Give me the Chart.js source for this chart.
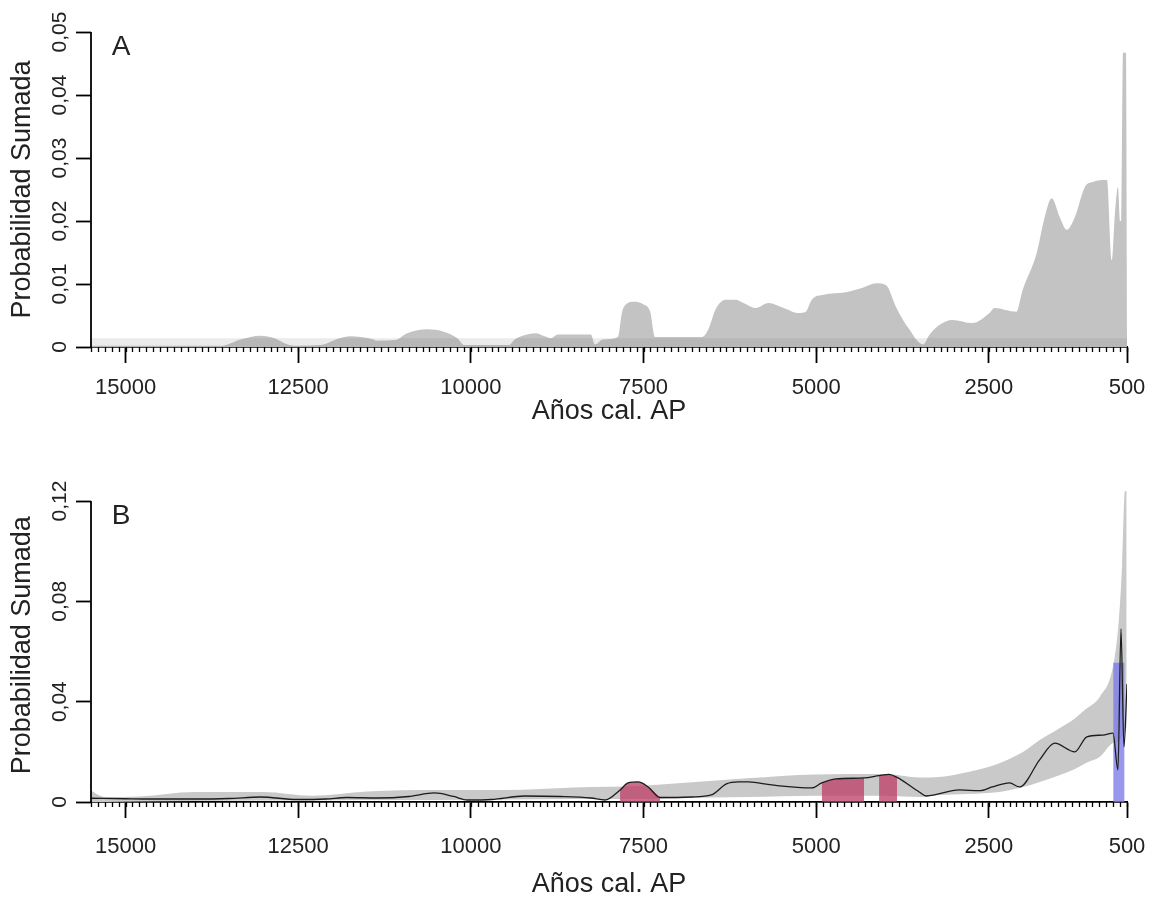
<!DOCTYPE html>
<html><head><meta charset="utf-8">
<script src="https://cdn.jsdelivr.net/npm/chart.js@4.4.1/dist/chart.umd.min.js"></script>
<style>
html,body{margin:0;padding:0;background:#fff;}
#wrap{position:relative;width:1154px;height:899px;overflow:hidden;background:#fff;}
canvas{position:absolute;left:0;}
#cA{top:0;} #cB{top:440px;}
</style></head><body>
<div id="wrap"><canvas id="cA" width="1154" height="440"></canvas><canvas id="cB" width="1154" height="459"></canvas></div>
<script>
// ---------- data ----------
const xMin = 500, xMax = 15500;
const xTickValues = [15000, 12500, 10000, 7500, 5000, 2500, 500];
const yTicksA = [0, 0.01, 0.02, 0.03, 0.04, 0.05];
const yTicksB = [0, 0.04, 0.08, 0.12];

// Panel A: summed probability
const yearsA = [15500,13600,13524,13335,13044,12840,12651,12500,12172,11954,11736,11445,11358,11100,10922,10631,10384,10195,10093,9450,9367,9250,9061,8930,8843,8741,8262,8204,8087,7870,7811,7753,7637,7506,7404,7332,6650,6561,6459,6314,6169,6052,5878,5689,5471,5253,5151,5064,4890,4570,4308,4134,3988,3843,3727,3625,3552,3450,3363,3218,3029,2738,2491,2419,2099,2012,1808,1692,1590,1474,1372,1256,1110,994,790,718,674,631,602,580,558,515,500];
const spdA = [0.0002,0.0002,0.0004,0.0012,0.0018,0.0014,0.0004,0.0002,0.0003,0.0012,0.0017,0.0013,0.0010,0.0011,0.0022,0.0028,0.0024,0.0014,0.0003,0.0003,0.0012,0.0018,0.0022,0.0017,0.0014,0.0020,0.0020,0.0004,0.0012,0.0016,0.0055,0.0068,0.0072,0.0068,0.0056,0.0016,0.0016,0.0028,0.0059,0.0075,0.0075,0.0070,0.0062,0.0070,0.0062,0.0054,0.0056,0.0075,0.0083,0.0087,0.0095,0.0101,0.0098,0.0063,0.0040,0.0024,0.0012,0.0004,0.0019,0.0035,0.0043,0.0038,0.0054,0.0062,0.0056,0.0090,0.0149,0.0206,0.0236,0.0206,0.0186,0.0206,0.0254,0.0262,0.0265,0.0138,0.0213,0.0254,0.0200,0.0200,0.0467,0.0467,0.0015];
const bandYearsA = [15500, 500];
const bandLevelA = [0.0014, 0.0014];

// Panel B: observed SPD line
const yearsB = [15500,15000,14700,14000,13500,13044,12521,12100,11794,11358,10900,10529,10250,10050,9700,9221,8700,8262,8058,7840,7724,7578,7433,7259,6800,6518,6300,6125,5980,5645,5064,4919,4715,4308,4090,3945,3829,3509,3407,2927,2637,2448,2201,2055,1765,1547,1256,1081,849,703,631,587,544,500];
const spdB = [0.0015,0.0013,0.0012,0.0012,0.0014,0.0020,0.0010,0.0012,0.0018,0.0016,0.0022,0.0036,0.0022,0.0008,0.0010,0.0024,0.0022,0.0016,0.0008,0.0048,0.0076,0.0080,0.0060,0.0018,0.0020,0.0028,0.0072,0.0080,0.0080,0.0068,0.0056,0.0076,0.0092,0.0096,0.0105,0.0110,0.0098,0.0040,0.0024,0.0048,0.0045,0.0060,0.0076,0.0060,0.0168,0.0235,0.0200,0.0260,0.0267,0.0275,0.0128,0.0690,0.0220,0.0470];
// Panel B: simulation envelope
const envYears = [15500,15300,14800,14000,13000,12300,11500,10500,9500,8500,7500,7000,6000,5000,4000,3500,3218,2800,2346,2000,1765,1500,1285,1100,892,703,620,570,530,505];
const envUpper = [0.0045,0.0020,0.0022,0.0040,0.0040,0.0025,0.0042,0.0048,0.0048,0.0058,0.0065,0.0075,0.0095,0.0110,0.0112,0.0098,0.0100,0.0120,0.0155,0.0200,0.0247,0.0290,0.0327,0.0370,0.0420,0.0540,0.0720,0.0950,0.1240,0.1240];
const envLower = [0.0000,0.0000,0.0002,0.0004,0.0006,0.0006,0.0008,0.0008,0.0010,0.0012,0.0012,0.0015,0.0020,0.0025,0.0025,0.0020,0.0028,0.0032,0.0040,0.0060,0.0080,0.0105,0.0128,0.0155,0.0180,0.0235,0.0240,0.0260,0.0280,0.0300];
// positive deviations (year ranges) and negative deviation
const boomRanges = [[7840, 7259], [4919, 4308], [4090, 3829]];
const bustYears = [700, 535];
const bustTop = [0.0555, 0.0555];

// ---------- helpers ----------
const FONT = '"Liberation Sans", Arial, Helvetica, sans-serif';
Chart.defaults.font.family = FONT;
Chart.defaults.color = '#222';
const pts = (xs, ys) => xs.map((x, i) => ({x: x, y: ys[i]}));
const fmtY = v => v === 0 ? '0' : v.toFixed(2).replace('.', ',');

const rAxes = {
  id: 'rAxes',
  afterDraw(chart, args, opts) {
    const {ctx, chartArea} = chart;
    const xs = chart.scales.x, ys = chart.scales.y;
    const yt = opts.yTicks;
    ctx.save();
    ctx.strokeStyle = '#000';
    ctx.lineWidth = 1.8;
    ctx.beginPath();
    ctx.moveTo(chartArea.left, ys.getPixelForValue(yt[0]) + 0.9);
    ctx.lineTo(chartArea.left, ys.getPixelForValue(yt[yt.length - 1]));
    ctx.stroke();
    // minor ticks every 100 years
    ctx.lineWidth = 1.3;
    ctx.beginPath();
    const y0 = chartArea.bottom;
    for (let v = xMin; v <= xMax; v += 100) {
      const px = Math.round(xs.getPixelForValue(v)) + 0.5;
      ctx.moveTo(px, y0);
      ctx.lineTo(px, y0 + 5);
    }
    ctx.stroke();
    ctx.fillStyle = '#222';
    ctx.font = '28px ' + FONT;
    ctx.textAlign = 'center';
    ctx.textBaseline = 'middle';
    ctx.fillText(opts.letter, chartArea.left + 30, ys.getPixelForValue(yt[yt.length - 1]) + 15);
    ctx.restore();
  }
};

function buildOptions(p) {
  return {
    responsive: false, animation: false, devicePixelRatio: 1,
    layout: {padding: {top: p.padTop, right: 27, bottom: 0, left: 0}},
    plugins: {legend: {display: false}, tooltip: {enabled: false}, rAxes: {yTicks: p.yTicks, letter: p.letter}},
    elements: {point: {radius: 0}},
    scales: {
      x: {
        type: 'linear', reverse: true, min: xMin, max: xMax,
        afterBuildTicks: s => { s.ticks = xTickValues.map(v => ({value: v})); },
        afterFit: s => { s.height = p.xHeight; s.paddingLeft = 0; s.paddingRight = 0; },
        ticks: {autoSkip: false, maxRotation: 0, minRotation: 0, padding: p.xPad, font: {size: 22}, color: '#222', callback: v => String(v)},
        grid: {display: true, drawOnChartArea: false, drawTicks: true, tickLength: 16, tickColor: '#000', tickWidth: 1.8},
        border: {display: true, color: '#000', width: 1.8},
        title: {display: true, text: 'Años cal. AP', font: {size: 27, lineHeight: 1}, color: '#222', padding: {top: 0, bottom: p.xTitlePad}}
      },
      y: {
        type: 'linear', min: 0, max: p.yMax,
        afterBuildTicks: s => { s.ticks = p.yTicks.map(v => ({value: v})); },
        afterFit: s => { s.width = 91; s.paddingTop = 0; s.paddingBottom = 0; },
        ticks: {minRotation: 90, maxRotation: 90, crossAlign: 'center', padding: -5, font: {size: 21}, color: '#222', callback: v => fmtY(v)},
        grid: {display: true, drawOnChartArea: false, drawTicks: true, tickLength: 15, tickColor: '#000', tickWidth: 1.8},
        border: {display: false},
        title: {display: true, text: 'Probabilidad Sumada', font: {size: 27, lineHeight: 1}, color: '#222', padding: {top: 9.5, bottom: 0}}
      }
    }
  };
}

const noLine = 'rgba(0,0,0,0)';

// ---------- Panel A ----------
new Chart(document.getElementById('cA'), {
  type: 'line',
  data: {datasets: [
    {data: pts(bandYearsA, bandLevelA), fill: 'origin', backgroundColor: 'rgba(110,110,110,0.14)', borderColor: noLine, borderWidth: 0, pointRadius: 0, order: 0},
    {data: pts(yearsA, spdA), fill: 'origin', backgroundColor: '#c3c3c3', borderColor: noLine, borderWidth: 0, pointRadius: 0, cubicInterpolationMode: 'monotone', order: 1}
  ]},
  options: buildOptions({padTop: 32, yMax: 0.05, yTicks: yTicksA, letter: 'A', xHeight: 93, xPad: 12, xTitlePad: 14.5}),
  plugins: [rAxes]
});

// ---------- Panel B ----------
const dsB = [];
dsB.push({data: pts(yearsB, spdB), fill: false, borderColor: '#1c1c1c', borderWidth: 1.3, pointRadius: 0, cubicInterpolationMode: 'monotone', order: 0});
dsB.push({data: pts(bustYears, bustTop), fill: 'origin', backgroundColor: 'rgba(125,125,232,0.8)', borderColor: noLine, borderWidth: 0, pointRadius: 0, order: 1});
boomRanges.forEach(r => {
  dsB.push({data: pts(yearsB, spdB).filter(p => p.x <= r[0] && p.x >= r[1]), fill: 'origin', backgroundColor: 'rgba(190,60,100,0.75)', borderColor: noLine, borderWidth: 0, pointRadius: 0, cubicInterpolationMode: 'monotone', order: 2});
});
const lowerIdx = dsB.length + 1;
dsB.push({data: pts(envYears, envUpper), fill: lowerIdx, backgroundColor: '#c9c9c9', borderColor: noLine, borderWidth: 0, pointRadius: 0, cubicInterpolationMode: 'monotone', order: 3});
dsB.push({data: pts(envYears, envLower), fill: false, borderColor: noLine, borderWidth: 0, pointRadius: 0, cubicInterpolationMode: 'monotone', order: 4});

new Chart(document.getElementById('cB'), {
  type: 'line',
  data: {datasets: dsB},
  options: buildOptions({padTop: 48.5, yMax: 0.125, yTicks: yTicksB, letter: 'B', xHeight: 97, xPad: 16, xTitlePad: 0.5}),
  plugins: [rAxes]
});
</script>
</body></html>
